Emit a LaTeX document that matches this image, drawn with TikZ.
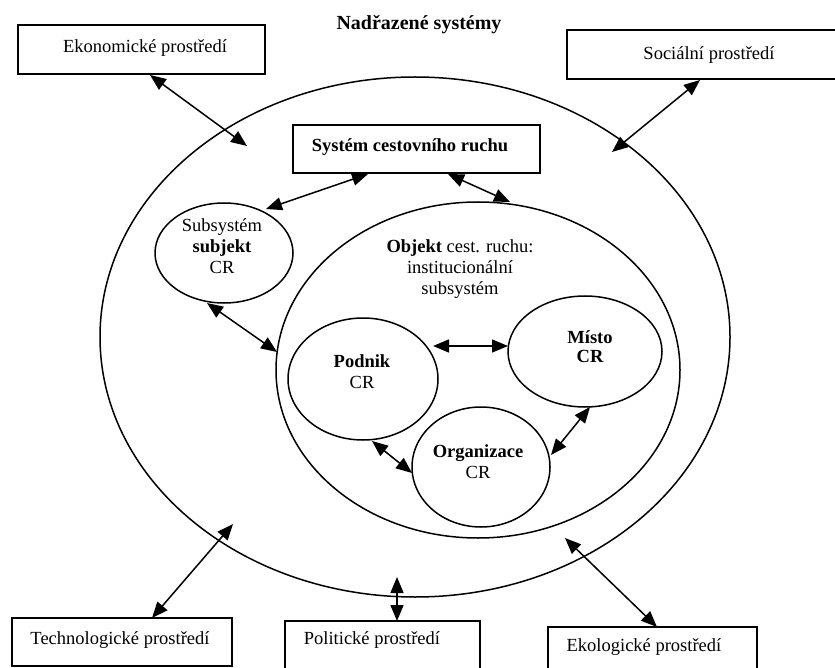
\documentclass[tikz,border=0pt]{standalone}
\usepackage{fontspec}
\setmainfont{Liberation Serif}
\usetikzlibrary{shapes.geometric,arrows.meta}
\begin{document}
\begin{tikzpicture}[x=1pt,y=-1pt,
  txt/.style={inner sep=0pt,font=\fontsize{18.5}{21}\selectfont,align=center},
  boxnode/.style={draw,line width=1.6pt,rectangle,inner sep=0pt},
  ell/.style={draw,line width=1.5pt,ellipse,inner sep=0pt},
  arr/.style={line width=1.5pt,{Triangle[length=16pt,width=13pt]}-{Triangle[length=16pt,width=13pt]}}]
\useasboundingbox (0,0) rectangle (835,668);
\clip (0,0) rectangle (835,668);
% boxes
\node[boxnode,minimum width=247pt,minimum height=49pt] (eko) at (141.5,49.5) {};
\node[boxnode,minimum width=283pt,minimum height=49pt] (soc) at (708.5,54.5) {};
\node[boxnode,minimum width=247pt,minimum height=48pt] (sys) at (416.5,149) {};
\node[boxnode,minimum width=220pt,minimum height=48pt] (tech) at (122,642) {};
\node[boxnode,minimum width=195pt,minimum height=70pt] (pol) at (382.5,656) {};
\node[boxnode,minimum width=209pt,minimum height=70pt] (ekol) at (652.5,662) {};
% ellipses
\node[ell,minimum width=630pt,minimum height=520pt] (big) at (415,337) {};
\node[ell,minimum width=404pt,minimum height=336pt] (obj) at (478,370) {};
\node[ell,minimum width=138pt,minimum height=100pt] (sub) at (224,253) {};
\node[ell,minimum width=150pt,minimum height=122pt] (pod) at (363,379) {};
\node[ell,minimum width=154pt,minimum height=111pt] (mis) at (585,351.5) {};
\node[ell,minimum width=138pt,minimum height=120pt] (org) at (481,467) {};
% texts
\node[txt,font=\fontsize{20}{22}\selectfont\bfseries] (title) at (419,25) {Nadřazené systémy};
\node[txt] (ekot) at (145,48) {Ekonomické prostředí};
\node[txt] (soct) at (709,55) {Sociální prostředí};
\node[txt,font=\fontsize{18.5}{21}\selectfont\bfseries] (syst) at (410,147) {Systém cestovního ruchu};
\node[txt] (subt) at (222,246) {Subsystém\\\textbf{subjekt}\\CR};
\node[txt] (objt) at (460,269) {\textbf{Objekt} cest. ruchu:\\institucionální\\subsystém};
\node[txt] (podt) at (362,372) {\textbf{Podnik}\\CR};
\node[txt,font=\fontsize{18.5}{19}\selectfont\bfseries] (mist) at (590,347) {Místo\\CR};
\node[txt] (orgt) at (478,462) {\textbf{Organizace}\\CR};
\node[txt] (techt) at (120,640) {Technologické prostředí};
\node[txt] (polt) at (372,640) {Politické prostředí};
\node[txt] (ekolt) at (644,647) {Ekologické prostředí};
% arrow end points
\coordinate (e1) at (150,75);
\coordinate (e2) at (247,146);
\coordinate (s1) at (700,80);
\coordinate (s2) at (612,152);
\coordinate (y1) at (368,174);
\coordinate (y2) at (266,209);
\coordinate (y3) at (448,174);
\coordinate (y4) at (510,202);
\coordinate (u1) at (207,303);
\coordinate (u2) at (277,352);
\coordinate (p1) at (433,346);
\coordinate (p2) at (508,346);
\coordinate (p3) at (372,441);
\coordinate (p4) at (412,473);
\coordinate (m1) at (590,407);
\coordinate (m2) at (551,455);
\coordinate (t1) at (152,618);
\coordinate (t2) at (233,524);
\coordinate (l1) at (397,577);
\coordinate (l2) at (397,621);
\coordinate (k1) at (565,538);
\coordinate (k2) at (657,627);
% connectors
\draw[arr] (e1) -- (e2);
\draw[arr] (s1) -- (s2);
\draw[arr] (y1) -- (y2);
\draw[arr] (y3) -- (y4);
\draw[arr] (u1) -- (u2);
\draw[arr] (p1) -- (p2);
\draw[arr] (p3) -- (p4);
\draw[arr] (m1) -- (m2);
\draw[arr] (t1) -- (t2);
\draw[arr] (l1) -- (l2);
\draw[arr] (k1) -- (k2);
\end{tikzpicture}
\end{document}
